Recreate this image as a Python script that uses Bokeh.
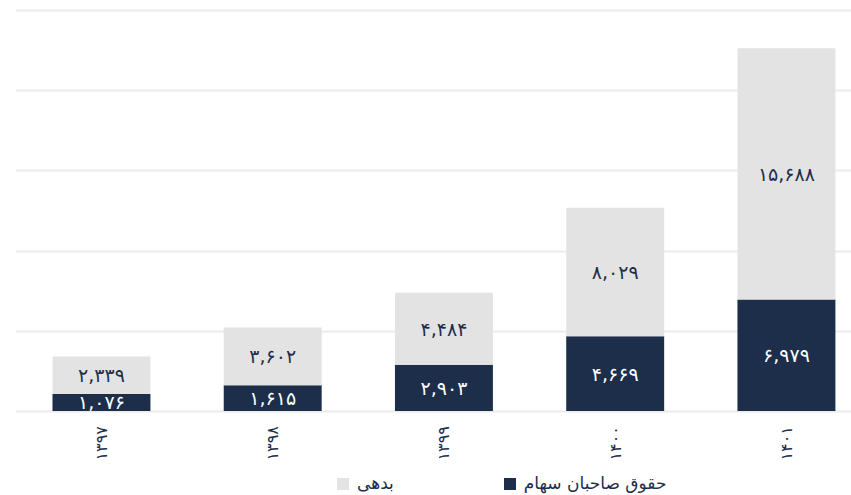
import math
from bokeh.plotting import figure
from bokeh.models import (ColumnDataSource, Range1d, FixedTicker, Legend, LegendItem)
from bokeh.core.properties import value
from bokeh.embed import file_html
from bokeh.resources import INLINE

years = ["۱۳۹۷", "۱۳۹۸", "۱۳۹۹", "۱۴۰۰", "۱۴۰۱"]
equity = [1076, 1615, 2903, 4669, 6979]
debt = [2339, 3602, 4484, 8029, 15688]
grid_ticks = [0, 5000, 10000, 15000, 20000, 25000]
series_names = ["بدهی", "حقوق صاحبان سهام"]

NAVY = "#1c2e4a"
LIGHT = "#e3e3e3"
GRID = "#ebebeb"
FONT = "DejaVu Sans"

fa = str.maketrans("0123456789", "۰۱۲۳۴۵۶۷۸۹")
def fmt(v):
    return f"{v:,}".translate(fa)

xs = list(range(len(years)))
src = ColumnDataSource(dict(x=xs, equity=equity, debt=debt))

p = figure(width=851, height=495, output_backend="svg", toolbar_location=None,
           x_range=Range1d(-0.502, 4.380), y_range=Range1d(-5272, 25150),
           min_border_left=15, min_border_right=0, min_border_top=8, min_border_bottom=0)
p.outline_line_color = None
p.background_fill_color = "white"
p.xaxis.visible = False
p.yaxis.visible = False
p.xgrid.visible = False
p.ygrid.ticker = FixedTicker(ticks=grid_ticks)
p.ygrid.grid_line_color = GRID
p.ygrid.grid_line_width = 2

rs = p.vbar_stack(["equity", "debt"], x="x", width=0.572, color=[NAVY, LIGHT],
                  line_color=None, source=src)

# value labels
eq_src = ColumnDataSource(dict(x=xs, y=[e / 2 for e in equity], t=[fmt(e) for e in equity]))
db_src = ColumnDataSource(dict(x=xs, y=[e + d / 2 for e, d in zip(equity, debt)], t=[fmt(d) for d in debt]))
p.text(x="x", y="y", text="t", source=eq_src, text_color="white", text_align="center",
       text_baseline="middle", text_font=value(FONT), text_font_size="19px")
p.text(x="x", y="y", text="t", source=db_src, text_color=NAVY, text_align="center",
       text_baseline="middle", text_font=value(FONT), text_font_size="19px")

# category labels (rotated, under each bar)
cat_src = ColumnDataSource(dict(x=xs, y=[0] * len(xs), t=years))
p.text(x="x", y="y", text="t", source=cat_src, angle=math.pi / 2, y_offset=15,
       text_align="right", text_baseline="middle", text_color=NAVY,
       text_font=value(FONT), text_font_size="16px")

legend = Legend(items=[LegendItem(label=series_names[0], renderers=[rs[1]]),
                       LegendItem(label=series_names[1], renderers=[rs[0]])],
                location=(320, 2), orientation="horizontal",
                padding=0, margin=0, spacing=108, label_standoff=7,
                glyph_width=15, glyph_height=15, label_height=15,
                border_line_color=None, background_fill_alpha=0,
                label_text_font=FONT, label_text_font_size="17px",
                label_text_color=NAVY)
p.add_layout(legend, "center")

open("out.html", "w").write(file_html(p, INLINE))
